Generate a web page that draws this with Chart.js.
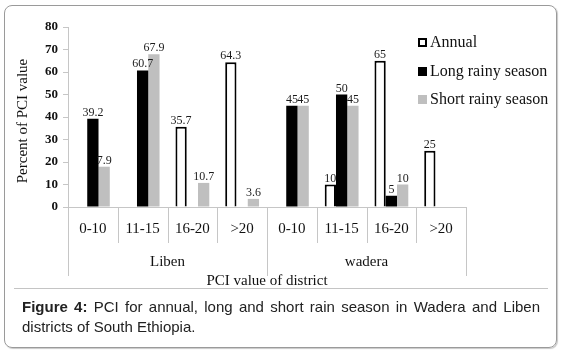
<!DOCTYPE html>
<html>
<head>
<meta charset="utf-8">
<script src="https://cdn.jsdelivr.net/npm/chart.js@4.4.1/dist/chart.umd.min.js"></script>
<style>
  html, body { margin: 0; padding: 0; background: #fff; }
  body { width: 562px; height: 352px; position: relative; overflow: hidden; }
  #frame {
    position: absolute; left: 4px; top: 5px; width: 551px; height: 341px;
    border: 1px solid #9a9a9a; border-radius: 8px;
    box-shadow: 1px 1px 1px #c8c8c8;
  }
  #chart-box { position: absolute; left: 0; top: 0; width: 562px; height: 290px; }
  #rule { position: absolute; left: 14px; top: 288px; width: 534px; height: 1px; background: #c4c4c4; }
  .cap {
    position: absolute; left: 22px; width: 518px;
    font-family: "Liberation Sans", Arial, sans-serif; font-size: 15px; color: #222;
    white-space: nowrap;
  }
  #cap1 { top: 298px; text-align: justify; text-align-last: justify; }
  #cap2 { top: 318px; }
</style>
</head>
<body>
<div id="frame"></div>
<div id="chart-box"><canvas id="pci-chart" width="562" height="290"></canvas></div>
<div id="rule"></div>
<div class="cap" id="cap1"><b>Figure 4:</b> PCI for annual, long and short rain season in Wadera and Liben</div>
<div class="cap" id="cap2">districts of South Ethiopia.</div>

<script>
// categories (two-level x axis)
const classes = ["0-10", "11-15", "16-20", ">20", "0-10", "11-15", "16-20", ">20"];
const districts = ["Liben", "wadera"];
const classesPerDistrict = 4;

// series values (percent of PCI value)
const annual = [0, 0, 35.7, 64.3, 0, 10, 65, 25];
const longRainy = [39.2, 60.7, 0, 0, 45, 50, 5, 0];
const shortRainy = [17.9, 67.9, 10.7, 3.6, 45, 45, 10, 0];
// the printed label of the first short-season bar differs from its height
const shortRainyText = ["7.9", "67.9", "10.7", "3.6", "45", "45", "10", ""];

const yTicks = [0, 10, 20, 30, 40, 50, 60, 70, 80];

const SERIF = "'Liberation Serif', 'Times New Roman', serif";
const LINE_GREY = "#c6c6c6";

// value labels over the bars
const barLabels = {
  id: "barLabels",
  afterDatasetsDraw(chart) {
    const ctx = chart.ctx;
    ctx.save();
    ctx.font = "12px " + SERIF;
    ctx.fillStyle = "#1c1c1c";
    ctx.textAlign = "center";
    ctx.textBaseline = "alphabetic";
    chart.data.datasets.forEach((ds, di) => {
      const meta = chart.getDatasetMeta(di);
      meta.data.forEach((bar, i) => {
        const v = ds.data[i];
        if (!v) return;
        const txt = ds.labelText ? ds.labelText[i] : String(v);
        ctx.fillText(txt, bar.x, bar.y - 3);
      });
    });
    ctx.restore();
  }
};

// category separators, district row, y title and legend
const groupAxis = {
  id: "groupAxis",
  afterDraw(chart) {
    const ctx = chart.ctx;
    const x = chart.scales.x;
    const area = chart.chartArea;
    const step = x.getPixelForTick(1) - x.getPixelForTick(0);
    const y0 = area.bottom;

    ctx.save();
    ctx.strokeStyle = LINE_GREY;
    ctx.lineWidth = 1;
    for (let i = 0; i <= classes.length; i++) {
      const px = Math.round(x.getPixelForTick(0) - step / 2 + i * step) + 0.5;
      const isGroupEdge = i % classesPerDistrict === 0;
      ctx.beginPath();
      ctx.moveTo(px, y0);
      ctx.lineTo(px, y0 + (isGroupEdge ? 69 : 36));
      ctx.stroke();
    }

    ctx.font = "15px " + SERIF;
    ctx.fillStyle = "#111";
    ctx.textAlign = "center";
    ctx.textBaseline = "middle";
    districts.forEach((name, g) => {
      const a = x.getPixelForTick(g * classesPerDistrict) - step / 2;
      const cx = a + (classesPerDistrict * step) / 2;
      ctx.fillText(name, cx, y0 + 55);
    });

    // y axis title, sitting a little below the plot centre as in the figure
    ctx.save();
    ctx.translate(23, (area.top + area.bottom) / 2 + 4);
    ctx.rotate(-Math.PI / 2);
    ctx.fillText("Percent of PCI value", 0, 0);
    ctx.restore();

    // legend
    const lx = 418, rows = [43, 72, 100];
    ctx.font = "16px " + SERIF;
    ctx.textAlign = "left";
    chart.data.datasets.forEach((ds, di) => {
      const cy = rows[di];
      if (ds.backgroundColor === "#ffffff") {
        ctx.fillStyle = "#ffffff";
        ctx.fillRect(lx, cy - 5, 9, 9);
        ctx.strokeStyle = "#000";
        ctx.lineWidth = 2;
        ctx.strokeRect(lx + 1, cy - 4, 7, 7);
      } else {
        ctx.fillStyle = ds.backgroundColor;
        ctx.fillRect(lx, cy - 5, 9, 9);
      }
      ctx.fillStyle = "#111";
      ctx.fillText(ds.label, lx + 12, cy);
    });
    ctx.restore();
  }
};

const chart = new Chart(document.getElementById("pci-chart"), {
  type: "bar",
  data: {
    labels: classes,
    datasets: [
      {
        label: "Annual",
        data: annual,
        backgroundColor: "#ffffff",
        borderColor: "#000000",
        borderWidth: 2,
        borderSkipped: "bottom"
      },
      {
        label: "Long rainy season",
        data: longRainy,
        backgroundColor: "#000000",
        borderWidth: 0
      },
      {
        label: "Short rainy season",
        data: shortRainy,
        labelText: shortRainyText,
        backgroundColor: "#bfbfbf",
        borderWidth: 0
      }
    ]
  },
  options: {
    responsive: false,
    animation: false,
    devicePixelRatio: 1,
    layout: { padding: { left: 4, right: 96, top: 27, bottom: 0 } },
    datasets: { bar: { categoryPercentage: 0.68, barPercentage: 1.0 } },
    plugins: {
      legend: { display: false },
      tooltip: { enabled: false }
    },
    scales: {
      x: {
        offset: true,
        grid: { display: false, drawTicks: false },
        border: { color: LINE_GREY },
        ticks: {
          color: "#111",
          font: { family: SERIF, size: 15 },
          padding: 13,
          maxRotation: 0,
          autoSkip: false
        },
        title: {
          display: true,
          text: "PCI value of district",
          color: "#111",
          font: { family: SERIF, size: 15 },
          padding: { top: 0, bottom: 0 }
        },
        afterFit(scale) { scale.height = 83; }
      },
      y: {
        min: 0,
        max: 80,
        afterBuildTicks(scale) { scale.ticks = yTicks.map(v => ({ value: v })); },
        grid: { drawOnChartArea: false, color: LINE_GREY, tickLength: 5 },
        border: { color: LINE_GREY },
        ticks: {
          color: "#111",
          font: { family: SERIF, size: 13, weight: "bold" },
          padding: 5
        },
        afterFit(scale) { scale.width = 64; }
      }
    }
  },
  plugins: [barLabels, groupAxis]
});
</script>
</body>
</html>
